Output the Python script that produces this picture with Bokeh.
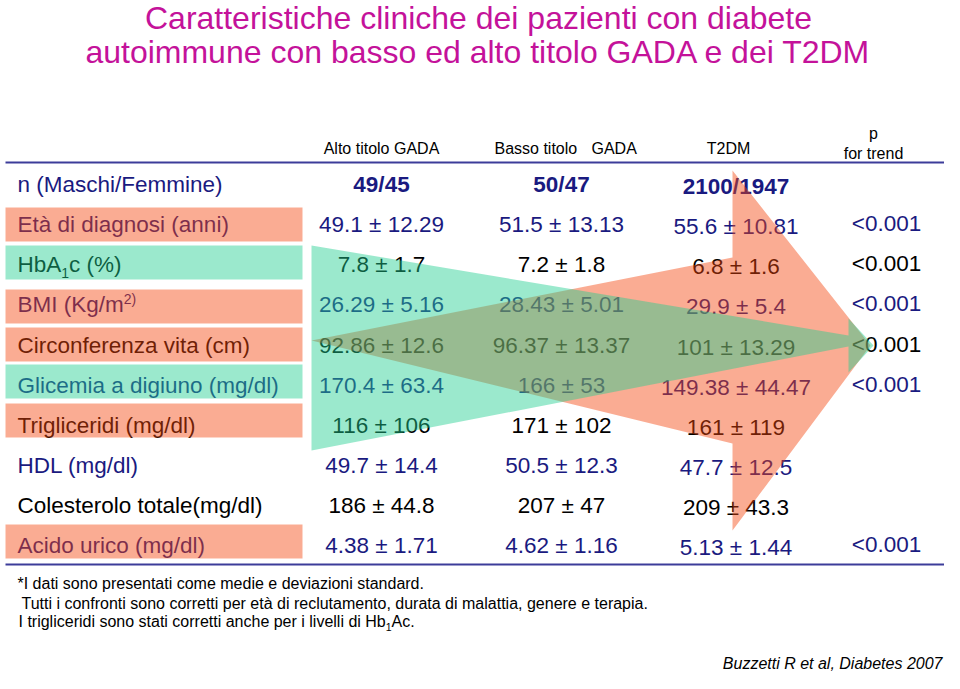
from bokeh.plotting import figure
from bokeh.models import ColumnDataSource, Range1d
from bokeh.embed import file_html
from bokeh.resources import INLINE
from bokeh.core.properties import value

# ------------------------------------------------------------------ data
title_lines = [
    "Caratteristiche cliniche dei pazienti con diabete",
    "autoimmune con basso ed alto titolo GADA e dei T2DM",
]
header_alto = "Alto titolo GADA"
header_basso = ["Basso titolo", "GADA"]
header_t2dm = "T2DM"
header_p = ["p", "for trend"]

row_main = [
    "n (Maschi/Femmine)",
    "Età di diagnosi (anni)",
    "HbA",
    "BMI (Kg/m",
    "Circonferenza vita (cm)",
    "Glicemia a digiuno (mg/dl)",
    "Trigliceridi (mg/dl)",
    "HDL (mg/dl)",
    "Colesterolo totale(mg/dl)",
    "Acido urico (mg/dl)",
]
row_script = ["", "", "1", "2)", "", "", "", "", "", ""]
row_script_kind = ["", "", "sub", "sup", "", "", "", "", "", ""]
row_tail = ["", "", "c (%)", "", "", "", "", "", "", ""]

alto_titolo = ["49/45", "49.1 ± 12.29", "7.8 ± 1.7", "26.29 ± 5.16", "92.86 ± 12.6",
               "170.4 ± 63.4", "116 ± 106", "49.7 ± 14.4", "186 ± 44.8", "4.38 ± 1.71"]
basso_titolo = ["50/47", "51.5 ± 13.13", "7.2 ± 1.8", "28.43 ± 5.01", "96.37 ± 13.37",
                "166 ± 53", "171 ± 102", "50.5 ± 12.3", "207 ± 47", "4.62 ± 1.16"]
t2dm = ["2100/1947", "55.6 ± 10.81", "6.8 ± 1.6", "29.9 ± 5.4", "101 ± 13.29",
        "149.38 ± 44.47", "161 ± 119", "47.7 ± 12.5", "209 ± 43.3", "5.13 ± 1.44"]
p_trend = ["", "<0.001", "<0.001", "<0.001", "<0.001", "<0.001", "", "", "", "<0.001"]

row_ink = ["navy", "navy", "black", "navy", "black", "navy", "black", "navy", "black", "navy"]
row_band = ["", "salmon", "green", "salmon", "salmon", "green", "salmon", "", "", "salmon"]

footnotes = [
    "*I dati sono presentati come medie e deviazioni standard.",
    "Tutti i confronti sono corretti per età di reclutamento, durata di malattia, genere e terapia.",
    "I trigliceridi sono stati corretti anche per i livelli di Hb",
]
footnote_sub = "1"
footnote_tail = "Ac."
citation = "Buzzetti R et al, Diabetes 2007"

# ------------------------------------------------------------------ layout / style
FONT = value("Liberation Sans")
NAVY = "#1A1A80"
INK = {"navy": NAVY, "black": "#000000"}
BAND = {"salmon": "#F4470F", "green": "#21CE90"}
BAND_ALPHA = 0.45
RULE = "#3C3C9A"
TITLE = "#C4129A"

# Arial / Liberation Sans advance widths (em) for sub/superscript placement
EM = {"H": .722, "b": .556, "A": .667, "B": .667, "M": .833, "I": .278, " ": .278,
      "(": .333, ")": .333, "K": .667, "g": .556, "/": .278, "m": .833, "1": .556,
      "2": .556, "t": .278, "r": .333, "i": .222, "l": .222, "c": .5, "e": .556,
      "d": .556, "s": .5, "o": .556, "n": .556, "a": .556, "h": .556, "p": .556,
      "v": .5, ".": .278}


def em_width(s):
    return sum(EM.get(ch, .556) for ch in s)


W, H = 944, 673
p = figure(width=W, height=H, x_range=Range1d(0, W), y_range=Range1d(H, 0),
           output_backend="svg", toolbar_location=None, min_border=0,
           x_axis_type=None, y_axis_type=None)
p.grid.visible = False
p.outline_line_color = None
p.background_fill_color = "white"
p.border_fill_color = "white"

ROW0, ROW_STEP = 192.0, 40.1
row_base = [ROW0 + ROW_STEP * i for i in range(len(row_main))]
LABEL_X = 17
BODY = 22.5
col_x = [381, 561, 735.5, 886]
col_dy = [0, 0, 2, -1]
MID = 0.35  # distance from baseline to middle of the em box, in em


def text(x, y, t, size, color="#000000", align="left", style="normal"):
    """y is the text baseline; drawn with a middle anchor."""
    ym = [v - MID * size for v in y]
    src = ColumnDataSource(dict(x=x, y=ym, text=t, color=color))
    p.text(x="x", y="y", text="text", source=src, text_font=FONT,
           text_font_size=value(f"{size}px"), text_color="color", text_align=align,
           text_baseline="middle", text_font_style=style)


# title
text([478, 478], [28.5, 62.5], title_lines, 32, [TITLE, TITLE], align="center")

# headers
text([col_x[0]], [153.5], [header_alto], 16, ["#000000"], align="center")
text([494, 591], [153.5, 153.5], header_basso, 16, ["#000000"] * 2)
text([728], [153.5], [header_t2dm], 16, ["#000000"], align="center")
text([873, 873], [139, 158.5], header_p, 16, ["#000000"] * 2, align="center")

# rules
p.segment(x0=[5, 5], y0=[162, 564], x1=[955, 952], y1=[162, 564], line_color=RULE, line_width=2)

# row labels
colors = [INK[k] for k in row_ink]
text([LABEL_X] * len(row_main), row_base, row_main, BODY, colors)
for i, s in enumerate(row_script):
    if not s:
        continue
    sx = LABEL_X + em_width(row_main[i]) * BODY
    ssize = 14
    sy = row_base[i] + (5 if row_script_kind[i] == "sub" else -9)
    text([sx], [sy], [s], ssize, [colors[i]])
    if row_tail[i]:
        text([sx + em_width(s) * ssize], [row_base[i]], [row_tail[i]], BODY, [colors[i]])

# values
for j, col in enumerate([alto_titolo, basso_titolo, t2dm, p_trend]):
    ys = [b + col_dy[j] for b in row_base]
    text([col_x[j]], [ys[0]], [col[0]], BODY, [colors[0]], align="center", style="bold")
    text([col_x[j]] * (len(col) - 1), ys[1:], col[1:], BODY, colors[1:], align="center")

# footnotes
text([17, 21, 18], [589, 609, 627], footnotes, 16, ["#000000"] * 3)
fx = 18 + em_width(footnotes[2]) * 16
text([fx], [630], [footnote_sub], 10.5, ["#000000"])
text([fx + em_width(footnote_sub) * 10.5], [627], [footnote_tail], 16, ["#000000"])

# citation
text([942], [669], [citation], 16, ["#000000"], align="right", style="italic")

# translucent label bands (drawn over the text, as in the slide)
band_top = {1: 207, 2: 245, 3: 289, 4: 327, 5: 364, 6: 403, 9: 524}
bl, br, bt, bb, bc = [], [], [], [], []
for i, k in enumerate(row_band):
    if not k:
        continue
    bl.append(5); br.append(302)
    bt.append(band_top[i]); bb.append(band_top[i] + 34)
    bc.append(BAND[k])
p.quad(left=bl, right=br, top=bt, bottom=bb, fill_color=bc, fill_alpha=BAND_ALPHA, line_color=None)

# translucent arrows
salmon_arrow = [(311, 340), (732, 257), (732, 170), (870, 345), (732, 530), (732, 443)]
green_arrow = [(311, 245), (848, 335), (848, 318), (873, 345), (848, 372), (848, 346), (311, 450)]
p.patch([q[0] for q in salmon_arrow], [q[1] for q in salmon_arrow],
        fill_color=BAND["salmon"], fill_alpha=BAND_ALPHA, line_color=None)
p.patch([q[0] for q in green_arrow], [q[1] for q in green_arrow],
        fill_color=BAND["green"], fill_alpha=BAND_ALPHA, line_color=None)

open("out.html", "w").write(file_html(p, INLINE))
